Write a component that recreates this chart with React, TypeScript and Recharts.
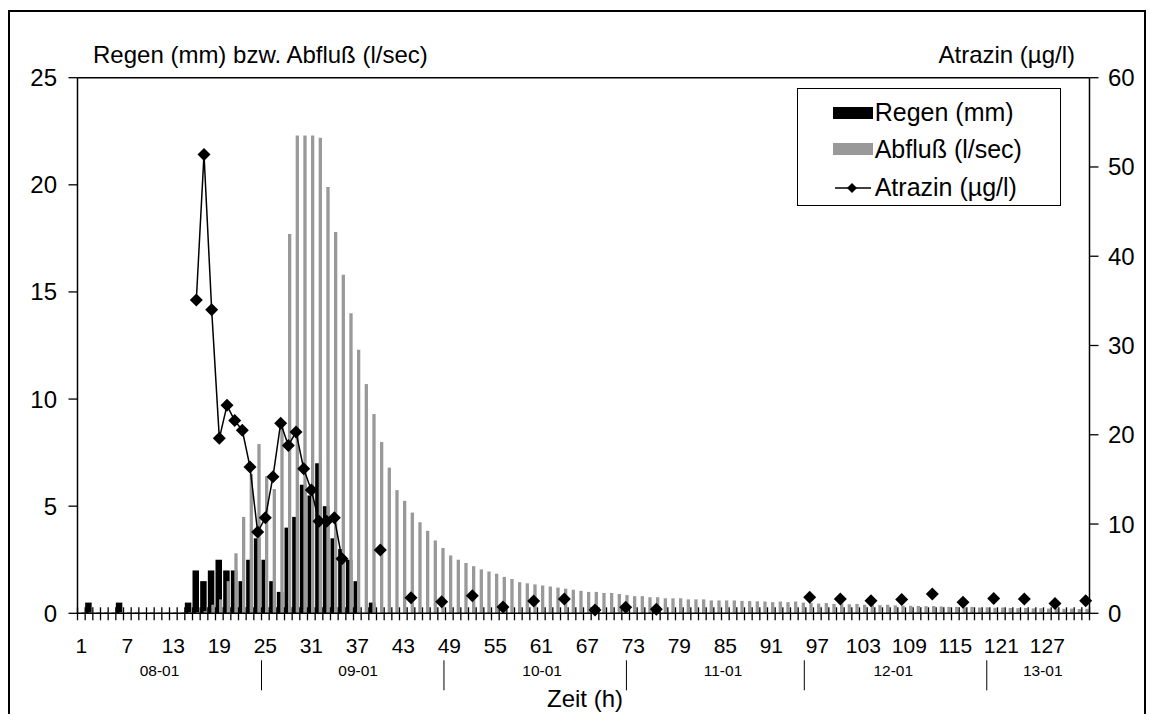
import React from 'react';
import { ComposedChart, Bar, Line, XAxis, YAxis, ReferenceLine } from 'recharts';

// hourly categories 1..132
const hours = Array.from({ length: 132 }, (_, i) => i + 1);

// Regen (mm) per hour
const regen = [
  0, 0.5, 0, 0, 0, 0.5, 0, 0, 0, 0,
  0, 0, 0, 0, 0.5, 2, 1.5, 2, 2.5, 2,
  2, 1.5, 2.5, 3.5, 2.5, 1.5, 1, 4, 4.5, 6,
  5.5, 7, 5, 3.5, 3, 2.5, 1.5, 0, 0.5, 0,
  0, 0, 0, 0, 0, 0, 0, 0, 0, 0,
  0, 0, 0, 0, 0, 0, 0, 0, 0, 0,
  0, 0, 0, 0, 0, 0, 0, 0, 0, 0,
  0, 0, 0, 0, 0, 0, 0, 0, 0, 0,
  0, 0, 0, 0, 0, 0, 0, 0, 0, 0,
  0, 0, 0, 0, 0, 0, 0, 0, 0, 0,
  0, 0, 0, 0, 0, 0, 0, 0, 0, 0,
  0, 0, 0, 0, 0, 0, 0, 0, 0, 0,
  0, 0, 0, 0, 0, 0, 0, 0, 0, 0,
  0, 0,
];

// Abfluß (l/sec) per hour
const abfluss = [
  0.05, 0.05, 0.05, 0.05, 0.05, 0.05, 0.05, 0.05, 0.05, 0.05,
  0.05, 0.05, 0.05, 0.05, 0.05, 0.05, 0.1, 0.4, 0.65, 1.5,
  2.8, 4.5, 6.5, 7.9, 6.4, 5.8, 8.9, 17.7, 22.3, 22.3,
  22.3, 22.2, 19.9, 17.8, 15.8, 14.0, 12.3, 10.7, 9.3, 8.0,
  6.8, 5.75, 5.25, 4.7, 4.25, 3.85, 3.4, 3.05, 2.7, 2.5,
  2.35, 2.2, 2.05, 1.95, 1.85, 1.7, 1.6, 1.45, 1.4, 1.35,
  1.3, 1.25, 1.2, 1.15, 1.1, 1.05, 1.0, 1.0, 0.95, 0.95,
  0.9, 0.85, 0.8, 0.8, 0.75, 0.75, 0.7, 0.7, 0.7, 0.65,
  0.65, 0.65, 0.6, 0.6, 0.6, 0.6, 0.58, 0.57, 0.56, 0.55,
  0.52, 0.55, 0.52, 0.55, 0.5, 0.48, 0.45, 0.48, 0.44, 0.46,
  0.42, 0.44, 0.4, 0.42, 0.38, 0.4, 0.37, 0.36, 0.35, 0.34,
  0.33, 0.34, 0.32, 0.3, 0.3, 0.28, 0.3, 0.27, 0.28, 0.26,
  0.27, 0.25, 0.24, 0.25, 0.23, 0.24, 0.22, 0.23, 0.21, 0.22,
  0.2, 0.21,
];

// Atrazin (µg/l) samples
const atrazinHours = [
  16, 17, 18, 19, 20, 21, 22, 23, 24, 25, 26, 27, 28, 29, 30, 31, 32, 33, 34, 35,
  40, 44, 48, 52, 56, 60, 64, 68, 72, 76,
  96, 100, 104, 108, 112, 116, 120, 124, 128, 132,
];
const atrazinValues = [
  35.1, 51.4, 34.0, 19.6, 23.3, 21.6, 20.5, 16.4, 9.1, 10.7, 15.3, 21.3, 18.8, 20.3, 16.2, 13.8, 10.3, 10.3, 10.7, 6.1,
  7.1, 1.75, 1.3, 1.97, 0.7, 1.38, 1.6, 0.37, 0.67, 0.45,
  1.8, 1.6, 1.4, 1.55, 2.15, 1.25, 1.65, 1.6, 1.1, 1.4,
];

// date row under the hour labels (positions in hour units from the left edge)
const dateLabels = ['08-01', '09-01', '10-01', '11-01', '12-01', '13-01'];
const datePos = [10.7, 36.6, 60.6, 84.2, 106.4, 125.9];
const daySeparators = [24, 47.8, 71.6, 94.8, 118.6];

const leftTicks = [0, 5, 10, 15, 20, 25];
const rightTicks = [0, 10, 20, 30, 40, 50, 60];

const data = hours.map((h, i) => {
  const k = atrazinHours.indexOf(h);
  return { hour: h, regen: regen[i], abfluss: abfluss[i], atrazin: k >= 0 ? atrazinValues[k] : null };
});

const W = 1134;
const H = 702;
const LEFT_W = 67.5;
const RIGHT_W = 54.5;
const BAND = (W - LEFT_W - RIGHT_W) / hours.length;
const FONT = '"Liberation Sans", Arial, sans-serif';

const HourTick = (props: any) => {
  const { x, y, payload } = props;
  const h = payload.value;
  const left = x - BAND / 2;
  return (
    <g>
      <line x1={left} x2={left} y1={y - 6} y2={y + 7} stroke="#000" strokeWidth={1.3} />
      {h === hours[hours.length - 1] && (
        <line x1={x + BAND / 2} x2={x + BAND / 2} y1={y - 6} y2={y + 7} stroke="#000" strokeWidth={1.3} />
      )}
      {(h - 1) % 6 === 0 && (
        <text x={x} y={y + 32} dy="0.355em" textAnchor="middle" fontSize={21} fontFamily={FONT} fill="#000">
          {h}
        </text>
      )}
      {h === 1 && (
        <g>
          {daySeparators.map((b) => (
            <line key={b} x1={left + b * BAND} x2={left + b * BAND} y1={y + 47} y2={y + 77} stroke="#000" strokeWidth={1} />
          ))}
          {dateLabels.map((d, i) => (
            <text key={d} x={left + datePos[i] * BAND} y={y + 57} dy="0.355em" textAnchor="middle" fontSize={15.5} fontFamily={FONT} fill="#000">
              {d}
            </text>
          ))}
        </g>
      )}
    </g>
  );
};

const Diamond = (props: any) => {
  const { cx, cy, value, index } = props;
  if (value == null || cy == null || isNaN(cy)) return <g key={`dm-${index}`} />;
  const r = 6.5;
  return (
    <polygon
      key={`dm-${index}`}
      points={`${cx},${cy - r} ${cx + r},${cy} ${cx},${cy + r} ${cx - r},${cy}`}
      fill="#000"
    />
  );
};

const textStyle: React.CSSProperties = {
  position: 'absolute',
  fontFamily: FONT,
  fontSize: 24,
  lineHeight: '24px',
  color: '#000',
  whiteSpace: 'nowrap',
};

const legendRow: React.CSSProperties = {
  position: 'absolute',
  left: 0,
  height: 30,
  display: 'flex',
  alignItems: 'center',
  fontFamily: FONT,
  fontSize: 25,
  whiteSpace: 'nowrap',
};

const App: React.FC = () => {
  return (
    <div
      style={{
        position: 'relative',
        top: 2,
        width: W + 4,
        height: H + 4,
        border: '2px solid #000',
        boxSizing: 'border-box',
        background: '#fff',
      }}
    >
      <div style={{ position: 'absolute', left: 0, top: 0 }}>
        <ComposedChart
          width={W}
          height={H - 2}
          data={data}
          margin={{ top: 65.7, right: 0, bottom: 0, left: 0 }}
          barGap={-3}
        >
          <XAxis
            dataKey="hour"
            interval={0}
            height={98.7}
            tickSize={0}
            tickMargin={0}
            tickLine={false}
            axisLine={{ stroke: '#000', strokeWidth: 1.5 }}
            tick={(p: any) => <HourTick {...p} />}
          />
          <YAxis
            yAxisId="left"
            orientation="left"
            width={LEFT_W}
            domain={[0, 25]}
            ticks={leftTicks}
            interval={0}
            tickSize={9}
            tickMargin={11.5}
            axisLine={{ stroke: '#000', strokeWidth: 1.5 }}
            tickLine={{ stroke: '#000', strokeWidth: 1.3 }}
            tick={{ fill: '#000', fontSize: 24, fontFamily: FONT }}
          />
          <YAxis
            yAxisId="right"
            orientation="right"
            width={RIGHT_W}
            domain={[0, 60]}
            ticks={rightTicks}
            interval={0}
            tickSize={9}
            tickMargin={9.5}
            axisLine={{ stroke: '#000', strokeWidth: 1.5 }}
            tickLine={{ stroke: '#000', strokeWidth: 1.3 }}
            tick={{ fill: '#000', fontSize: 24, fontFamily: FONT }}
          />
          <ReferenceLine yAxisId="left" y={25} stroke="#000" strokeWidth={1.5} />
          <Bar yAxisId="left" dataKey="regen" fill="#000" barSize={6.5} isAnimationActive={false} />
          <Bar yAxisId="left" dataKey="abfluss" fill="#999999" barSize={3.3} isAnimationActive={false} />
          <Line
            yAxisId="right"
            dataKey="atrazin"
            stroke="#000"
            strokeWidth={1.5}
            dot={Diamond}
            activeDot={false}
            isAnimationActive={false}
          />
        </ComposedChart>
      </div>

      <div style={{ ...textStyle, left: 83, top: 31 }}>Regen (mm) bzw. Abfluß (l/sec)</div>
      <div style={{ ...textStyle, right: 69, top: 31 }}>Atrazin (µg/l)</div>
      <div style={{ ...textStyle, left: 525, width: 100, textAlign: 'center', top: 675 }}>Zeit (h)</div>

      <div
        style={{
          position: 'absolute',
          left: 786.7,
          top: 76.3,
          width: 264,
          height: 117.4,
          border: '1px solid #000',
          boxSizing: 'border-box',
          background: '#fff',
        }}
      >
        <div style={{ ...legendRow, top: 8.4 }}>
          <span style={{ display: 'inline-block', marginLeft: 35, width: 40, height: 12, background: '#000' }} />
          <span style={{ marginLeft: 2 }}>Regen (mm)</span>
        </div>
        <div style={{ ...legendRow, top: 45 }}>
          <span style={{ display: 'inline-block', marginLeft: 35, width: 40, height: 12, background: '#999999' }} />
          <span style={{ marginLeft: 2 }}>Abfluß (l/sec)</span>
        </div>
        <div style={{ ...legendRow, top: 83.4 }}>
          <svg width={40} height={14} style={{ marginLeft: 35 }}>
            <line x1={2} x2={38} y1={7} y2={7} stroke="#000" strokeWidth={1.5} />
            <polygon points="19,2 24,7 19,12 14,7" fill="#000" />
          </svg>
          <span style={{ marginLeft: 2 }}>Atrazin (µg/l)</span>
        </div>
      </div>
    </div>
  );
};

export default App;
